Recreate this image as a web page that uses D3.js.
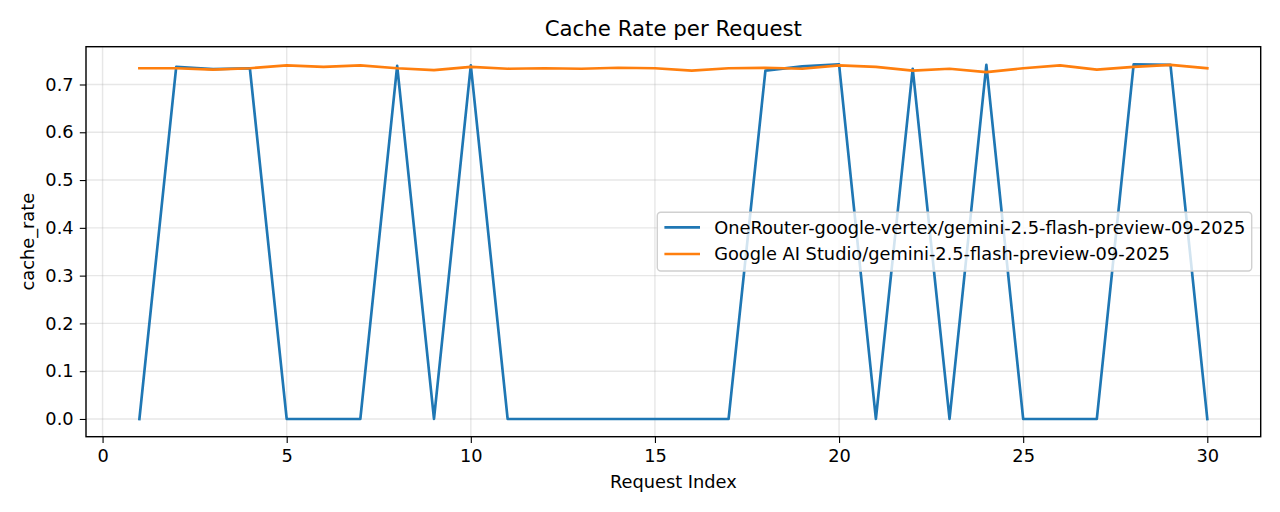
<!DOCTYPE html>
<html>
<head>
<meta charset="utf-8">
<script src="https://cdn.jsdelivr.net/npm/d3@7"></script>
<style>
  html, body { margin: 0; padding: 0; background: #fff; }
  svg { display: block; }
  text { font-family: "DejaVu Sans", sans-serif; fill: #000; }
</style>
</head>
<body>
<svg id="chart" width="1280" height="512"></svg>
<script>
// ---- data ----
const requestIndex = d3.range(1, 31);
const oneRouterRate = [0, 0.737, 0.732, 0.734, 0, 0, 0, 0.739, 0, 0.740,
  0, 0, 0, 0, 0, 0, 0, 0.729, 0.738, 0.742,
  0, 0.733, 0, 0.741, 0, 0, 0, 0.742, 0.741, 0];
const aiStudioRate = [0.734, 0.734, 0.731, 0.734, 0.740, 0.737, 0.740, 0.734, 0.730, 0.737,
  0.733, 0.734, 0.733, 0.735, 0.734, 0.729, 0.734, 0.735, 0.733, 0.740,
  0.737, 0.729, 0.733, 0.726, 0.734, 0.740, 0.731, 0.737, 0.741, 0.734];
const seriesNames = ["OneRouter-google-vertex/gemini-2.5-flash-preview-09-2025",
  "Google AI Studio/gemini-2.5-flash-preview-09-2025"];
const seriesColors = ["#1f77b4", "#ff7f0e"];
const xTicks = [0, 5, 10, 15, 20, 25, 30];
const yTicks = [0, 0.1, 0.2, 0.3, 0.4, 0.5, 0.6, 0.7];
const titleText = "Cache Rate per Request";
const xLabelText = "Request Index";
const yLabelText = "cache_rate";

// ---- layout ----
const svg = d3.select("#chart");
const L = 86, R = 1260.7, T = 46.7, B = 436.7;
const fs = 17.8;

const allY = oneRouterRate.concat(aiStudioRate);
const xMin = d3.min(requestIndex), xMax = d3.max(requestIndex);
const yMin = d3.min(allY), yMax = d3.max(allY);
const xm = (xMax - xMin) * 0.05, ym = (yMax - yMin) * 0.05;
const x = d3.scaleLinear().domain([xMin - xm, xMax + xm]).range([L, R]);
const y = d3.scaleLinear().domain([yMin - ym, yMax + ym]).range([B, T]);

// grid
const grid = svg.append("g");
grid.selectAll("line.gx").data(xTicks).join("line")
  .attr("x1", d => x(d)).attr("x2", d => x(d)).attr("y1", T).attr("y2", B)
  .attr("stroke", "#b0b0b0").attr("stroke-opacity", 0.3).attr("stroke-width", 1.42);
grid.selectAll("line.gy").data(yTicks).join("line")
  .attr("x1", L).attr("x2", R).attr("y1", d => y(d)).attr("y2", d => y(d))
  .attr("stroke", "#b0b0b0").attr("stroke-opacity", 0.3).attr("stroke-width", 1.42);

// lines
const series = [oneRouterRate, aiStudioRate];
const clip = svg.append("clipPath").attr("id", "clip").append("rect")
  .attr("x", L).attr("y", T).attr("width", R - L).attr("height", B - T);
const lineGen = d3.line().x((d, i) => x(requestIndex[i])).y(d => y(d));
series.forEach((s, k) => {
  svg.append("path").datum(s)
    .attr("d", lineGen)
    .attr("fill", "none")
    .attr("stroke", seriesColors[k])
    .attr("stroke-width", 2.67)
    .attr("stroke-linejoin", "round")
    .attr("stroke-linecap", "square")
    .attr("clip-path", "url(#clip)");
});

// axes
const xAxis = d3.axisBottom(x).tickValues(xTicks).tickFormat(d3.format("d"))
  .tickSizeInner(6.2).tickSizeOuter(0).tickPadding(6.2);
const yAxis = d3.axisLeft(y).tickValues(yTicks).tickFormat(d3.format(".1f"))
  .tickSizeInner(6.2).tickSizeOuter(0).tickPadding(6.2);
const gx = svg.append("g").attr("transform", `translate(0,${B})`).call(xAxis);
const gy = svg.append("g").attr("transform", `translate(${L},0)`).call(yAxis);
[gx, gy].forEach(g => {
  g.select(".domain").remove();
  g.selectAll(".tick line").attr("stroke", "#000").attr("stroke-width", 1.1);
  g.selectAll(".tick text").attr("font-size", fs).attr("font-family", "DejaVu Sans").attr("fill", "#000");
});

// spines
svg.append("rect").attr("x", L).attr("y", T).attr("width", R - L).attr("height", B - T)
  .attr("fill", "none").attr("stroke", "#000").attr("stroke-width", 1.42);

// title and labels
svg.append("text").attr("x", (L + R) / 2).attr("y", 36).attr("text-anchor", "middle")
  .attr("font-size", 21.3).text(titleText);
svg.append("text").attr("x", (L + R) / 2).attr("y", 488).attr("text-anchor", "middle")
  .attr("font-size", fs).text(xLabelText);
svg.append("text").attr("transform", `translate(34,${(T + B) / 2}) rotate(-90)`)
  .attr("text-anchor", "middle").attr("font-size", fs).text(yLabelText);

// legend
const lg = svg.append("g");
lg.append("rect").attr("x", 657.3).attr("y", 212.3).attr("width", 1251.7 - 657.3).attr("height", 271 - 212.3)
  .attr("rx", 3.5).attr("fill", "#fff").attr("fill-opacity", 0.8)
  .attr("stroke", "#d0d0d0").attr("stroke-width", 1.42);
const rowY = [227.3, 254];
seriesNames.forEach((name, k) => {
  lg.append("line").attr("x1", 664.4).attr("x2", 700).attr("y1", rowY[k]).attr("y2", rowY[k])
    .attr("stroke", seriesColors[k]).attr("stroke-width", 2.67);
  lg.append("text").attr("x", 714.2).attr("y", rowY[k]).attr("dy", "0.36em")
    .attr("font-size", fs).text(name);
});
</script>
</body>
</html>
